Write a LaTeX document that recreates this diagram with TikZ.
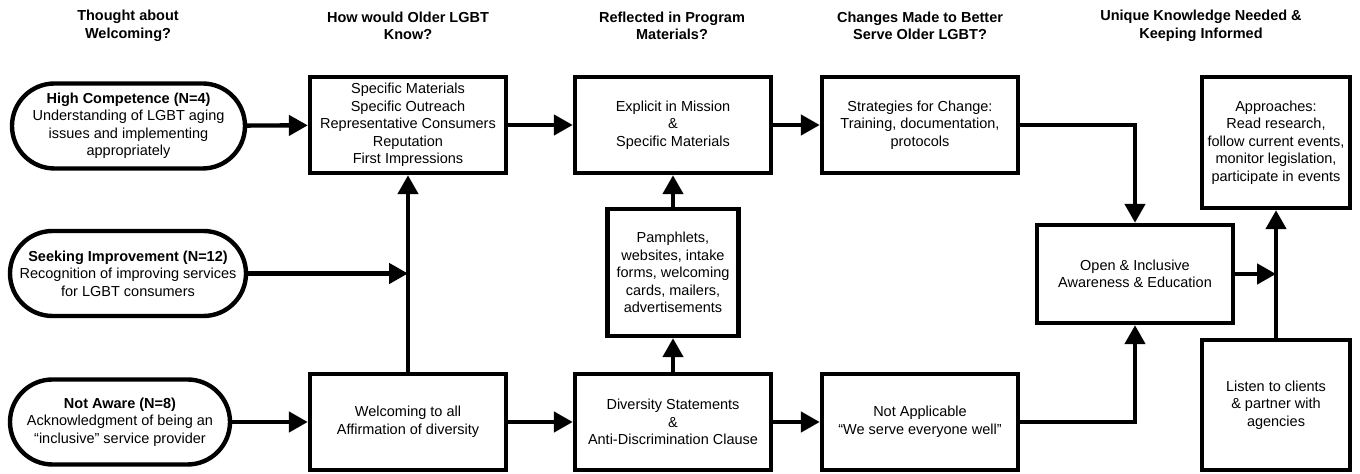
\documentclass[tikz,border=0pt]{standalone}
\usepackage{fontspec}
\setmainfont{Liberation Sans}
\usetikzlibrary{arrows.meta}

\begin{document}
\begin{tikzpicture}[
    every node/.style={font=\fontsize{8.25}{9.96}\selectfont, align=center, inner sep=0pt},
    box/.style={draw, line width=2.5pt, minimum width=3.92cm, minimum height=1.92cm},
    pill/.style={draw, line width=2.5pt, rounded corners=0.85cm, minimum height=1.7cm},
    head/.style={font=\fontsize{8.25}{9.96}\selectfont\bfseries},
    link/.style={line width=2.5pt, line join=miter, -{Triangle[length=10.8pt,width=11.4pt]}}
  ]

  \useasboundingbox (0,0) rectangle (27.2,9.48);

  % Column headings
  \node[head] (h1) at (2.56,8.96) {Thought about\\Welcoming?};
  \node[head] (h2) at (8.16,8.96) {How would Older LGBT\\Know?};
  \node[head] (h3) at (13.44,8.96) {Reflected in Program\\Materials?};
  \node[head] (h4) at (18.4,8.96) {Changes Made to Better\\Serve Older LGBT?};
  \node[head] (h5) at (24.02,8.96) {Unique Knowledge Needed \&\\Keeping Informed};

  % Levels of competence
  \node[pill, minimum width=4.66cm] (high) at (2.57,6.96)
    {\textbf{High Competence (N=4)}\\Understanding of LGBT aging\\issues and implementing\\appropriately};
  \node[pill, minimum width=4.72cm] (seek) at (2.56,4.01)
    {\textbf{Seeking Improvement (N=12)}\\Recognition of improving services\\for LGBT consumers};
  \node[pill, minimum width=4.40cm] (unaware) at (2.40,1.04)
    {\textbf{Not Aware (N=8)}\\Acknowledgment of being an\\``inclusive'' service provider};

  % How would they know
  \node[box] (know) at (8.16,6.98)
    {Specific Materials\\Specific Outreach\\Representative Consumers\\Reputation\\First Impressions};
  \node[box] (welcome) at (8.16,1.04) {Welcoming to all\\Affirmation of diversity};

  % Program materials
  \node[box] (mission) at (13.46,6.98) {Explicit in Mission\\\&\\Specific Materials};
  \node[box, minimum width=2.62cm, minimum height=2.54cm] (pamph) at (13.46,4.03)
    {Pamphlets,\\websites, intake\\forms, welcoming\\cards, mailers,\\advertisements};
  \node[box] (divers) at (13.46,1.04) {Diversity Statements\\\&\\Anti-Discrimination Clause};

  % Changes made
  \node[box] (strat) at (18.4,6.98) {Strategies for Change:\\Training, documentation,\\protocols};
  \node[box] (notapp) at (18.4,1.04) {Not Applicable\\``We serve everyone well''};
  \node[box, minimum height=1.96cm] (open) at (22.7,4.00) {Open \& Inclusive\\Awareness \& Education};

  % Keeping informed
  \node[box, minimum width=2.96cm, minimum height=2.62cm] (approach) at (25.52,6.63)
    {Approaches:\\Read research,\\follow current events,\\monitor legislation,\\participate in events};
  \node[box, minimum width=2.96cm, minimum height=2.60cm] (listen) at (25.52,1.38)
    {Listen to clients\\\& partner with\\agencies};

  % Arrows
  \draw[link] (high) -- (know);
  \draw[link] (unaware) -- (welcome);
  \draw[link] (welcome) -- (know);
  \draw[link] (seek.east) -- (seek.east -| know.south);
  \draw[link] (know) -- (mission);
  \draw[link] (welcome) -- (divers);
  \draw[link] (divers) -- (pamph);
  \draw[link] (pamph) -- (mission);
  \draw[link] (mission) -- (strat);
  \draw[link] (divers) -- (notapp);
  \draw[link] (strat.east) -| (open.north);
  \draw[link] (notapp.east) -| (open.south);
  \draw[link] (listen) -- (approach);
  \draw[link] (open.east) -- (open.east -| listen.north);

\end{tikzpicture}
\end{document}
